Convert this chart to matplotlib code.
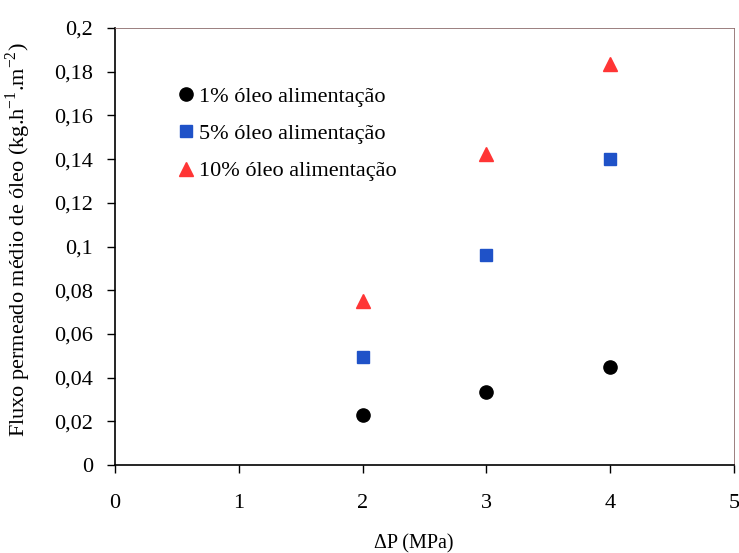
import matplotlib.pyplot as plt
from matplotlib.ticker import FuncFormatter, MultipleLocator

plt.rcParams['font.family'] = ['Liberation Serif', 'DejaVu Serif']

pressao = [2, 3, 4]
oleo_1 = [0.0229, 0.0334, 0.0449]
oleo_5 = [0.0493, 0.0960, 0.1399]
oleo_10 = [0.0752, 0.1423, 0.1835]
rotulos = ['1% óleo alimentação', '5% óleo alimentação', '10% óleo alimentação']

fig = plt.figure(figsize=(7.39, 5.53), dpi=100)
ax = fig.add_axes([115 / 739, 88 / 553, 619 / 739, 437 / 553])

ax.plot(pressao, oleo_1, 'o', color='black', ms=9.5, label=rotulos[0])
ax.plot(pressao, oleo_5, 's', color='#1f52c8', ms=9, label=rotulos[1])
ax.plot(pressao, oleo_10, '^', color='#ff3535', ms=10, label=rotulos[2])

ax.set_xlim(0, 5)
ax.set_ylim(0, 0.2)
ax.xaxis.set_major_locator(MultipleLocator(1))
ax.yaxis.set_major_locator(MultipleLocator(0.02))

virgula = FuncFormatter(lambda v, pos: f"{round(v, 4):g}".replace('.', ','))
ax.xaxis.set_major_formatter(virgula)
ax.yaxis.set_major_formatter(virgula)
ax.tick_params(direction='out', length=6, width=1, labelsize=16)
ax.tick_params(axis='y', pad=10)
ax.tick_params(axis='x', pad=15)

for lado in ['left', 'bottom']:
    ax.spines[lado].set_linewidth(1.2)
for lado in ['top', 'right']:
    ax.spines[lado].set_linewidth(0.6)
    ax.spines[lado].set_color('#8a6a6a')

ax.set_xlabel('ΔP (MPa)', fontsize=14.5)
ax.xaxis.set_label_coords(0.482, -0.158)
ax.set_ylabel('Fluxo permeado médio de óleo (kg.h$^{\\mathregular{-1}}$.m$^{\\mathregular{-2}}$)',
              fontsize=16)
ax.yaxis.set_label_coords(-0.132, 0.515)

ax.legend(loc='upper left', bbox_to_anchor=(0.062, 0.912), frameon=False, fontsize=16,
          handletextpad=0.05, labelspacing=0.75, handlelength=1.1)

fig.savefig('out.png', dpi=100)
